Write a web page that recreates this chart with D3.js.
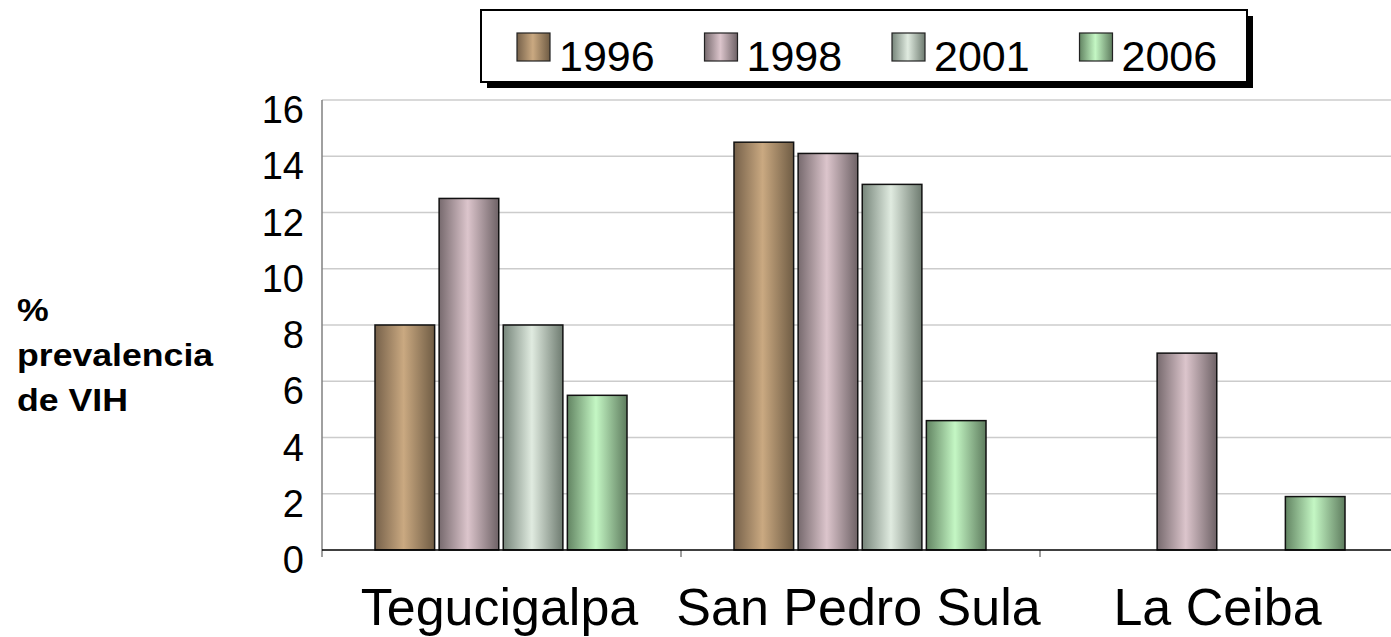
<!DOCTYPE html>
<html>
<head>
<meta charset="utf-8">
<script src="https://cdn.jsdelivr.net/npm/d3@7/dist/d3.min.js"></script>
<style>
  html, body { margin: 0; padding: 0; background: #fff; }
  svg { display: block; font-family: "Liberation Sans", Arial, sans-serif; }
</style>
</head>
<body>
<svg id="chart" width="1391" height="637"></svg>
<script>
// ---- data ----
const categories = ["Tegucigalpa", "San Pedro Sula", "La Ceiba"];
const seriesNames = ["1996", "1998", "2001", "2006"];
const values1996 = [8, 14.5, null];
const values1998 = [12.5, 14.1, 7];
const values2001 = [8, 13, null];
const values2006 = [5.5, 4.6, 1.9];
const yTicks = [0, 2, 4, 6, 8, 10, 12, 14, 16];
const yLabelLines = ["%", "prevalencia", "de VIH"];

const seriesValues = [values1996, values1998, values2001, values2006];
const palette = [
  { dark: "#76614a", light: "#caa981", end: "#6f5c44" },
  { dark: "#776a6e", light: "#dcc5cc", end: "#6e6266" },
  { dark: "#76857a", light: "#e0ebe0", end: "#6e7b70" },
  { dark: "#628462", light: "#c4f7c4", end: "#5e7c5e" }
];

const svg = d3.select("#chart");
const W = 1391, H = 637;
const plotL = 322, plotR = 1399, plotT = 100, plotB = 550;

// gradients
const defs = svg.append("defs");
palette.forEach((p, i) => {
  const g = defs.append("linearGradient").attr("id", "grad" + i)
    .attr("x1", "0%").attr("x2", "100%").attr("y1", "0%").attr("y2", "0%");
  g.append("stop").attr("offset", "0%").attr("stop-color", p.dark);
  g.append("stop").attr("offset", "48%").attr("stop-color", p.light);
  g.append("stop").attr("offset", "100%").attr("stop-color", p.end);
});

const x0 = d3.scaleBand().domain(categories).range([plotL, plotR]).padding(0);
const x1 = d3.scaleBand().domain(seriesNames)
  .range([53, 53 + 252]).paddingInner(0.07).paddingOuter(0);
const y = d3.scaleLinear().domain([0, 16]).range([plotB, plotT]);

// gridlines
svg.append("g").selectAll("line").data(yTicks.filter(t => t > 0)).join("line")
  .attr("x1", plotL).attr("x2", W)
  .attr("y1", d => y(d)).attr("y2", d => y(d))
  .attr("stroke", "#cccccc").attr("stroke-width", 1.5);

// y axis line
svg.append("line").attr("x1", plotL).attr("x2", plotL)
  .attr("y1", plotT).attr("y2", plotB + 7)
  .attr("stroke", "#808080").attr("stroke-width", 1.5);

// category ticks
svg.append("g").selectAll("line").data(categories.slice(1)).join("line")
  .attr("x1", d => x0(d)).attr("x2", d => x0(d))
  .attr("y1", plotB).attr("y2", plotB + 7)
  .attr("stroke", "#808080").attr("stroke-width", 1.5);

// bars
const groups = svg.append("g").selectAll("g").data(categories).join("g")
  .attr("transform", d => `translate(${x0(d)},0)`);
groups.selectAll("rect")
  .data((c, ci) => seriesNames.map((s, si) => ({ s, si, v: seriesValues[si][ci] })).filter(d => d.v != null))
  .join("rect")
  .attr("x", d => x1(d.s))
  .attr("width", x1.bandwidth())
  .attr("y", d => y(d.v))
  .attr("height", d => y(0) - y(d.v))
  .attr("fill", d => `url(#grad${d.si})`)
  .attr("stroke", "#111").attr("stroke-width", 1.5);

// x axis line
svg.append("line").attr("x1", plotL).attr("x2", W)
  .attr("y1", plotB).attr("y2", plotB)
  .attr("stroke", "#000").attr("stroke-width", 1.5);

// y tick labels
svg.append("g").selectAll("text").data(yTicks).join("text")
  .attr("x", 304).attr("y", d => y(d) + 23)
  .attr("text-anchor", "end")
  .attr("font-size", 38).attr("fill", "#000")
  .text(d => d);

// category labels
svg.append("g").selectAll("text").data(categories).join("text")
  .attr("x", d => x0(d) + x0.bandwidth() / 2 - 2)
  .attr("y", 625)
  .attr("text-anchor", "middle")
  .attr("font-size", 52).attr("fill", "#000")
  .text(d => d);

// y axis title
svg.append("g").selectAll("text").data(yLabelLines).join("text")
  .attr("transform", (d, i) => `translate(17,${321 + i * 45}) scale(1.15,1.03)`)
  .attr("font-size", 31).attr("font-weight", "bold").attr("fill", "#000")
  .text(d => d);

// legend
const lg = svg.append("g");
lg.append("rect").attr("x", 487).attr("y", 16).attr("width", 766).attr("height", 72).attr("fill", "#000");
lg.append("rect").attr("x", 481).attr("y", 10).attr("width", 766).attr("height", 72)
  .attr("fill", "#fff").attr("stroke", "#000").attr("stroke-width", 2);
const items = lg.selectAll("g.item").data(seriesNames).join("g")
  .attr("class", "item")
  .attr("transform", (d, i) => `translate(${517 + i * 187.5},0)`);
items.append("rect").attr("x", 0).attr("y", 33).attr("width", 33).attr("height", 28)
  .attr("fill", (d, i) => `url(#grad${i})`).attr("stroke", "#222").attr("stroke-width", 1.2);
items.append("text").attr("x", 42).attr("y", 71)
  .attr("font-size", 43).attr("fill", "#000")
  .text(d => d);
</script>
</body>
</html>
